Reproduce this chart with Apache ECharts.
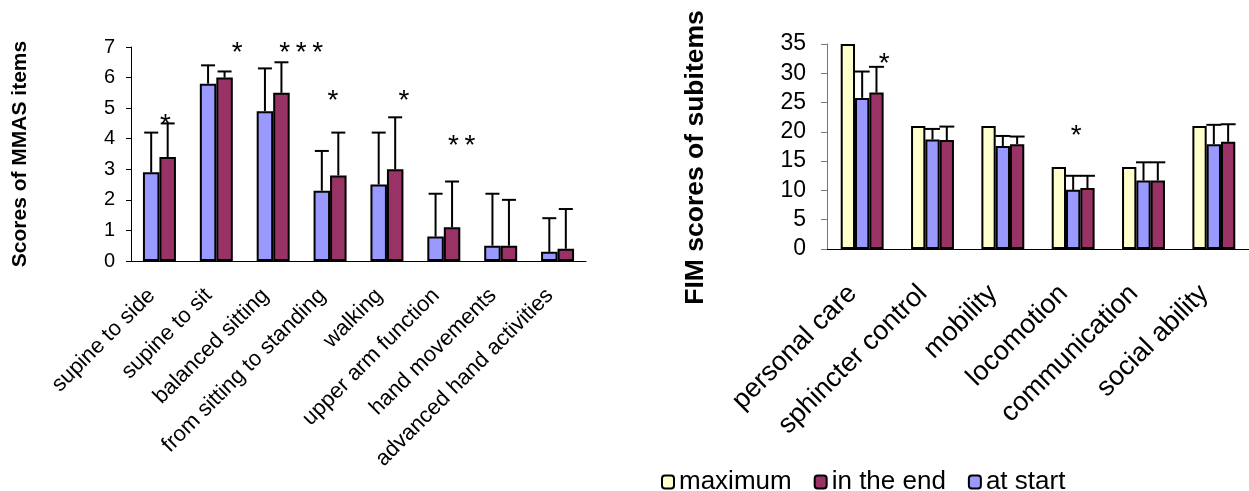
<!DOCTYPE html>
<html>
<head>
<meta charset="utf-8">
<script src="https://cdn.jsdelivr.net/npm/echarts@6/dist/echarts.min.js"></script>
<style>
  html, body { margin: 0; padding: 0; background: #fff; }
  #chart { width: 1249px; height: 491px; }
</style>
</head>
<body>
<div id="chart"></div>
<script>
// MMAS items (left panel)
const leftCategories = ['supine to side', 'supine to sit', 'balanced sitting', 'from sitting to standing',
    'walking', 'upper arm function', 'hand movements', 'advanced hand activities'];
const leftStart = [2.9, 5.8, 4.9, 2.3, 2.5, 0.8, 0.5, 0.3];
const leftEnd = [3.4, 6.0, 5.5, 2.8, 3.0, 1.1, 0.5, 0.4];
const leftStartUpper = [4.2, 6.4, 6.3, 3.6, 4.2, 2.2, 2.2, 1.4];
const leftEndUpper = [4.5, 6.2, 6.5, 4.2, 4.7, 2.6, 2.0, 1.7];
const leftStarCats = [0, 1, 2, 3, 4, 5];
const leftStarValues = [4.6, 6.95, 6.95, 5.4, 5.4, 3.9];
const leftStarTexts = ['*', '*', '*\u2009*\u2009*', '*', '*', '*\u2009*'];

// FIM subitems (right panel)
const rightCategories = ['personal care', 'sphincter control', 'mobility', 'locomotion', 'communication', 'social ability'];
const rightMax = [35, 21, 21, 14, 14, 21];
const rightStart = [25.8, 18.7, 17.6, 10.1, 11.7, 17.9];
const rightEnd = [26.7, 18.6, 17.9, 10.4, 11.7, 18.3];
const rightStartUpper = [30.3, 20.5, 19.3, 12.5, 14.8, 21.2];
const rightEndUpper = [31.1, 20.9, 19.2, 12.5, 14.8, 21.3];
const rightStarCats = [0, 3];
const rightStarValues = [32.4, 20.1];
const rightStarTexts = ['*', '*'];

// label nudges for the asterisks (px)
const leftStarDx = [6, 21, 28, 3, 17, 18];
const rightStarDx = [22, 3];

const FONT = '"Liberation Sans", Arial, sans-serif';
const COL_MAX = '#FFFFCC';
const COL_START = '#9999FF';
const COL_END = '#993366';
const LEFT_GAP = 0.42;
const RIGHT_GAP = 0.39;

function barSeries(name, idx, data, color, gap) {
    return {
        type: 'bar',
        name: name,
        xAxisIndex: idx,
        yAxisIndex: idx,
        data: data,
        barGap: '0%',
        barCategoryGap: (gap * 100) + '%',
        itemStyle: { color: color, borderColor: '#000', borderWidth: 2 },
        emphasis: { disabled: true }
    };
}

function errorSeries(idx, means, uppers, pos, n, gap, capW) {
    return {
        type: 'custom',
        name: 'err' + idx + pos,
        xAxisIndex: idx,
        yAxisIndex: idx,
        z: 5,
        encode: { x: 0, y: [1, 2] },
        data: means.map((m, i) => [i, m, uppers[i]]),
        renderItem: function(params, api) {
            const i = api.value(0);
            const base = api.coord([i, api.value(1)]);
            const top = api.coord([i, api.value(2)]);
            const catW = api.size([1, 0])[0];
            const total = catW * (1 - gap);
            const bw = total / n;
            const x = base[0] - total / 2 + bw * (pos + 0.5);
            return {
                type: 'group',
                children: [
                    { type: 'line', shape: { x1: x, y1: base[1], x2: x, y2: top[1] }, style: { stroke: '#000', lineWidth: 2 } },
                    { type: 'line', shape: { x1: x - capW / 2, y1: top[1], x2: x + capW / 2, y2: top[1] }, style: { stroke: '#000', lineWidth: 2 } }
                ]
            };
        }
    };
}

function starSeries(idx, cats, values, texts, dx) {
    return {
        type: 'custom',
        name: 'stars' + idx,
        xAxisIndex: idx,
        yAxisIndex: idx,
        z: 6,
        encode: { x: 0, y: 1 },
        data: cats.map((c, i) => [c, values[i], i]),
        renderItem: function(params, api) {
            const p = api.coord([api.value(0), api.value(1)]);
            const k = api.value(2);
            return {
                type: 'text',
                x: p[0] + dx[k],
                y: p[1] + 5,
                style: {
                    text: texts[k],
                    fill: '#000',
                    font: '28px ' + FONT,
                    align: 'center',
                    verticalAlign: 'middle'
                }
            };
        }
    };
}

const chart = echarts.init(document.getElementById('chart'));
const option = {
    animation: false,
    textStyle: { fontFamily: FONT },
    legend: {
        data: ['maximum', 'in the end', 'at start'],
        left: 656,
        top: 464,
        itemWidth: 12,
        itemHeight: 13,
        itemGap: 22,
        textStyle: { fontSize: 26, color: '#000', fontFamily: FONT }
    },
    grid: [
        { left: 131, top: 47, width: 455, height: 214 },
        { left: 827, top: 44, width: 431, height: 205 }
    ],
    xAxis: [
        {
            type: 'category', gridIndex: 0, data: leftCategories,
            axisLine: { lineStyle: { color: '#000', width: 1 } },
            axisTick: { length: 6, lineStyle: { color: '#000' } },
            axisLabel: { rotate: 45, interval: 0, fontSize: 22, color: '#000', margin: 39, verticalAlign: 'bottom' }
        },
        {
            type: 'category', gridIndex: 1, data: rightCategories,
            axisLine: { lineStyle: { color: '#000', width: 1 } },
            axisTick: { length: 8, lineStyle: { color: '#777' } },
            axisLabel: { rotate: 45, interval: 0, fontSize: 27, color: '#000', margin: 50, verticalAlign: 'bottom' }
        }
    ],
    yAxis: [
        {
            type: 'value', gridIndex: 0, min: 0, max: 7, interval: 1,
            name: 'Scores of MMAS items', nameLocation: 'middle', nameGap: 100,
            nameTextStyle: { fontSize: 21, fontWeight: 'bold', color: '#000' },
            axisLine: { show: true, lineStyle: { color: '#000' } },
            axisTick: { show: true, length: 5, lineStyle: { color: '#000' } },
            splitLine: { show: false },
            axisLabel: { fontSize: 20, color: '#000', margin: 16 }
        },
        {
            type: 'value', gridIndex: 1, min: 0, max: 35, interval: 5,
            name: 'FIM scores of subitems', nameLocation: 'middle', nameGap: 118,
            nameTextStyle: { fontSize: 26.5, fontWeight: 'bold', color: '#000', padding: [0, 22, 0, 0] },
            axisLine: { show: true, lineStyle: { color: '#777' } },
            axisTick: { show: true, length: 6, lineStyle: { color: '#777' } },
            splitLine: { show: false },
            axisLabel: { fontSize: 23, color: '#000', margin: 21 }
        }
    ],
    series: [
        barSeries('at start', 0, leftStart, COL_START, LEFT_GAP),
        barSeries('in the end', 0, leftEnd, COL_END, LEFT_GAP),
        errorSeries(0, leftStart, leftStartUpper, 0, 2, LEFT_GAP, 14),
        errorSeries(0, leftEnd, leftEndUpper, 1, 2, LEFT_GAP, 14),
        starSeries(0, leftStarCats, leftStarValues, leftStarTexts, leftStarDx),

        barSeries('maximum', 1, rightMax, COL_MAX, RIGHT_GAP),
        barSeries('at start', 1, rightStart, COL_START, RIGHT_GAP),
        barSeries('in the end', 1, rightEnd, COL_END, RIGHT_GAP),
        errorSeries(1, rightStart, rightStartUpper, 1, 3, RIGHT_GAP, 15),
        errorSeries(1, rightEnd, rightEndUpper, 2, 3, RIGHT_GAP, 15),
        starSeries(1, rightStarCats, rightStarValues, rightStarTexts, rightStarDx)
    ]
};
chart.setOption(option);
</script>
</body>
</html>
